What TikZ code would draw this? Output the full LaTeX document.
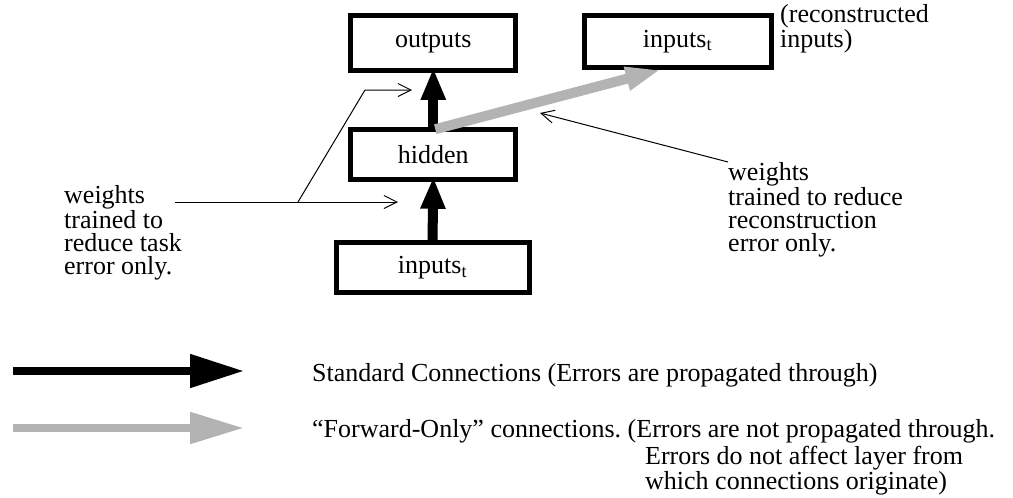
\documentclass[tikz,border=0pt]{standalone}
\usepackage{fontspec}
\setmainfont{Liberation Serif}
\usetikzlibrary{arrows.meta,calc}
\definecolor{fwdgray}{RGB}{179,179,179}
\frenchspacing
\begin{document}
\begin{tikzpicture}[x=1pt,y=-1pt,
  every node/.style={font=\fontsize{26}{23}\selectfont},
  layer/.style={draw, line width=5pt, inner sep=0pt, outer sep=0pt},
  std/.style={line width=10pt, -{Triangle[length=32pt,width=23pt]}},
  fwd/.style={fwdgray, line width=10pt, -{Triangle[length=35pt,width=22pt]}},
  note/.style={line width=1pt, -{Straight Barb[length=13pt,width=13pt]}},
  lbl/.style={align=left, inner sep=0pt, anchor=base west},
  keystd/.style={line width=8pt, -{Triangle[length=54pt,width=32pt]}},
  keyfwd/.style={fwdgray, line width=8pt, -{Triangle[length=54pt,width=30pt]}}
]
\useasboundingbox (0,0) rectangle (1013,498);

% layers
\node[layer, minimum width=165pt, minimum height=55pt] (out) at (433.3,43.3) {outputs};
\node[layer, minimum width=165pt, minimum height=50pt] (hid) at (433.3,154.2) {hidden};
\node[layer, minimum width=193pt, minimum height=50pt] (inp) at (432.5,267.5) {inputs\textsubscript{t}};
\node[layer, minimum width=187pt, minimum height=52pt] (rec) at (677.5,41.3) {inputs\textsubscript{t}};

% connections
\draw[std, shorten >=-3pt] (hid.north) -- (out.south);
\draw[std, shorten >=-2.5pt] (inp.north) -- (hid.south);
\coordinate (gtip) at ($(rec.south west)!0.41!(rec.south east)+(0,2.5)$);
\draw[fwd] ($(hid.north)+(2,0)$) -- (gtip);

% annotations (base anchor = baseline of last line)
\node[lbl] (lt) at (64,274) {weights\\trained to\\reduce task\\error only.};
\coordinate (ls) at (175,202);
\coordinate (la1) at (398,202);
\coordinate (lj) at (298,202);
\coordinate (lb) at (365,90);
\coordinate (la2) at (412,90);
\draw[note] (ls) -- (la1);
\draw[note] (lj) -- (lb) -- (la2);

\node[lbl] (rt) at (728,251) {weights\\trained to reduce\\reconstruction\\error only.};
\coordinate (rs) at (728,162);
\coordinate (ra) at (540,113);
\draw[note] (rs) -- (ra);

\node[lbl] (rl) at (780,47) {(reconstructed\\inputs)};

% legend
\coordinate (k1s) at (13,371);
\coordinate (k1e) at (244,371);
\coordinate (k2s) at (13,428);
\coordinate (k2e) at (244,428);
\draw[keystd] (k1s) -- (k1e);
\draw[keyfwd] (k2s) -- (k2e);
\node[lbl] (k1t) at (312,381) {Standard Connections (Errors are propagated through)};
\node[lbl] (k2t) at (312,437) {“Forward-Only” connections. (Errors are not propagated through.};
\node[lbl] (k2u) at (645,489) {Errors do not affect layer from\\which connections originate)};
\end{tikzpicture}
\end{document}
